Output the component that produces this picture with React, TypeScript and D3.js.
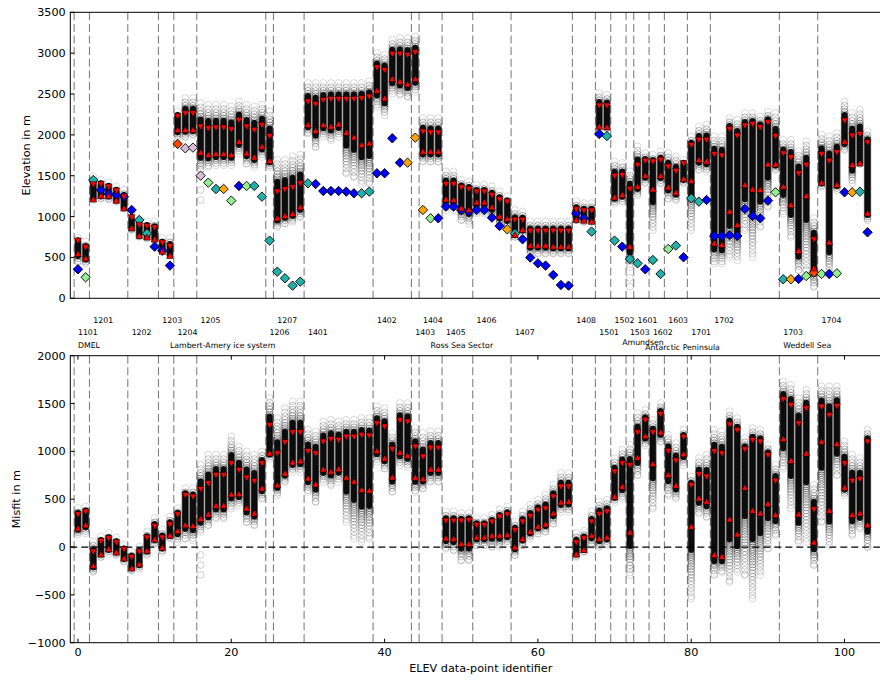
import React from "react";
import * as d3 from "d3";

// ---------- DATA ----------
const regionEdges = [-0.5, 1.5, 6.5, 10.5, 12.5, 15.5, 24.5, 25.5, 29.5, 38.5, 43.5, 44.5, 47.5, 51.5, 56.5, 64.5, 67.5, 69.5, 71.5, 72.5, 74.5, 76.5, 79.5, 82.5, 91.5, 96.5];
const regionIds = ["1101", "1201", "1202", "1203", "1204", "1205", "1206", "1207", "1401", "1402", "1403", "1404", "1405", "1406", "1407", "1408", "1501", "1502", "1503", "1601", "1602", "1603", "1701", "1702", "1703", "1704"];
const sectorNames = ["DMEL", "Lambert-Amery ice system", "Ross Sea Sector", "Amundsen", "Antarctic Peninsula", "Weddell Sea"];
const sectorPos = [0, 12, 46, 71, 74, 92];
const sectorRowShift = [0, 0, 0, -3.3, 1.8, 0];

const elevTicks = [0, 500, 1000, 1500, 2000, 2500, 3000, 3500];
const misfitTicks = [-1000, -500, 0, 500, 1000, 1500, 2000];
const idTicks = [0, 20, 40, 60, 80, 100];

// model upper (down-triangle) and lower (up-triangle) elevation, m
const elevUpper = [706, 624, 1395, 1399, 1366, 1318, 1244, 991, 897, 885,
  865, 681, 640, 2231, 2264, 2264, 2101, 2080, 2088, 2088,
  2068, 2182, 2101, 2060, 2121, 1986, 1305, 1334, 1358, 1407,
  2407, 2378, 2427, 2439, 2439, 2439, 2439, 2447, 2468, 2823,
  2794, 2990, 2990, 2978, 3010, 2040, 2027, 2027, 1399, 1399,
  1358, 1338, 1305, 1305, 1264, 1211, 1183, 959, 959, 824,
  824, 824, 824, 824, 824, 1089, 1073, 1073, 2358, 2358,
  1497, 1509, 1338, 1632, 1681, 1672, 1693, 1611, 1558, 1652,
  1876, 1938, 1938, 1766, 1746, 2072, 1990, 2113, 2133, 2093,
  2154, 1986, 1774, 1725, 1530, 1632, 722, 1766, 1681, 1787,
  2174, 1990, 2011, 1909];
const elevLower = [543, 489, 1211, 1252, 1252, 1195, 1101, 857, 763, 746,
  722, 571, 518, 2060, 2060, 2060, 1783, 1754, 1766, 1766,
  1754, 1917, 1774, 1725, 1856, 1680, 979, 1008, 1032, 1114,
  2121, 2048, 2121, 2101, 2129, 2027, 1970, 1876, 1897, 2541,
  2447, 2684, 2651, 2619, 2684, 1795, 1795, 1795, 1211, 1203,
  1101, 1081, 1175, 1175, 1114, 999, 971, 775, 836, 645,
  645, 645, 632, 632, 632, 959, 950, 938, 2101, 2093,
  1236, 1264, 632, 1366, 1501, 1334, 1497, 1358, 1293, 1460,
  1436, 1693, 1676, 673, 653, 1061, 897, 1387, 1334, 1326,
  1640, 1640, 1366, 1142, 579, 1252, 367, 1415, 685, 1387,
  1917, 1632, 1652, 1040];
// ensemble spread (highest / lowest member), m
const elevEnsMax = [775, 734, 1530, 1489, 1456, 1407, 1366, 1061, 999, 979,
  979, 775, 775, 2325, 2488, 2488, 2427, 2407, 2407, 2407,
  2386, 2447, 2407, 2386, 2407, 2325, 1734, 1734, 1774, 1795,
  2672, 2672, 2672, 2672, 2672, 2672, 2672, 2672, 2692, 3039,
  3018, 3202, 3222, 3222, 3243, 2243, 2243, 2243, 1591, 1591,
  1489, 1468, 1428, 1428, 1407, 1346, 1285, 1122, 1101, 979,
  979, 979, 979, 979, 979, 1224, 1203, 1203, 2549, 2529,
  1713, 1693, 1591, 1897, 1815, 1795, 1836, 1815, 1774, 1734,
  2019, 2142, 2162, 2019, 2019, 2243, 2223, 2305, 2305, 2264,
  2325, 2305, 1978, 1978, 1836, 1958, 1020, 2040, 2019, 2060,
  2447, 2305, 2345, 2080];
const elevEnsMin = [408, 388, 1163, 1183, 1175, 1142, 1061, 795, 714, 693,
  673, 530, 489, 1917, 1938, 1958, 1530, 1570, 1591, 1591,
  1591, 1734, 1611, 1570, 1693, 1570, 836, 877, 897, 959,
  1978, 1815, 1938, 1897, 1938, 1489, 1448, 1366, 1366, 2305,
  2203, 2468, 2447, 2427, 2488, 1632, 1632, 1632, 1040, 1040,
  918, 877, 999, 999, 959, 877, 836, 714, 755, 510,
  510, 510, 510, 510, 510, 918, 897, 897, 2040, 2040,
  1122, 1142, 347, 1224, 1366, 795, 1366, 1183, 1163, 1366,
  795, 1530, 1509, 388, 388, 469, 428, 795, 469, 836,
  1081, 1530, 999, 714, 306, 306, 102, 1326, 265, 1285,
  1774, 1366, 1611, 918];
const elevOutlierIdx = [16, 16, 72, 72];
const elevOutlierVal = [1326, 1203, 250, 143];

// observed elevation (diamonds) and their class
const obsElev = [355, 257, 1448, 1326, 1277, 1264, 1244, 1081, 959, 795,
  632, 583, 400, 1889, 1836, 1844, 1501, 1415, 1338, 1338,
  1195, 1375, 1375, 1375, 1244, 706, 326, 245, 155, 204,
  1407, 1399, 1313, 1313, 1313, 1305, 1285, 1285, 1305, 1530,
  1530, 1958, 1660, 1660, 1966, 1081, 979, 979, 1122, 1122,
  1081, 1060, 1081, 1081, 987, 885, 844, 795, 722, 498,
  428, 400, 286, 163, 155, 1040, 979, 816, 2011, 1986,
  706, 632, 481, 428, 355, 469, 298, 604, 645, 502,
  1224, 1183, 1203, 763, 763, 771, 763, 1093, 1008, 979,
  1195, 1297, 233, 233, 237, 273, 314, 298, 298, 306,
  1297, 1297, 1305, 808];
const obsClass = "bgcbbbbbccbbbrpppgcogbgccccccccbbbbbbccbbbbooogbbbbbbbbbocbbbbbbbbbcbccbccbccgcbccbbbbbbbbbgcobgrgbgbocb";
const classColor: Record<string, string> = {
  b: "#0000ff", c: "#20b2aa", g: "#90ee90", o: "#ffa500", p: "#d8bfd8", r: "#ff4500",
};

// misfit (model minus observation), m
const misUpper = [342, 370, -49, 63, 91, 49, -24, -104, -49, 98,
  220, 98, 237, 342, 544, 526, 606, 666, 753, 753,
  875, 805, 725, 690, 875, 1275, 979, 1094, 1199, 1199,
  1004, 979, 1101, 1129, 1119, 1153, 1153, 1171, 1164, 1293,
  1258, 1024, 1324, 1310, 1049, 944, 1038, 1038, 275, 275,
  275, 282, 230, 230, 265, 317, 342, 178, 265, 324,
  387, 404, 526, 631, 631, 49, 91, 265, 345, 370,
  788, 875, 857, 1199, 1328, 1199, 1390, 1004, 903, 1153,
  648, 760, 735, 1000, 979, 1282, 1223, 1021, 1119, 1101,
  962, 693, 1544, 1484, 1293, 1450, 394, 1467, 1380, 1474,
  875, 693, 711, 1101];
const misLower = [195, 230, -198, -76, -21, -56, -118, -223, -181, -38,
  80, -7, 119, 167, 230, 220, 293, 342, 432, 432,
  551, 554, 404, 352, 613, 979, 648, 770, 885, 899,
  718, 655, 812, 788, 815, 725, 683, 596, 589, 1004,
  927, 728, 986, 955, 725, 711, 812, 812, 91, 84,
  32, 32, 101, 101, 119, 119, 126, -3, 84, 160,
  213, 237, 352, 467, 474, -76, -31, 119, 84, 101,
  526, 631, 153, 934, 1160, 868, 1199, 753, 641, 972,
  213, 509, 474, -83, -101, 289, 133, 620, 380, 352,
  450, 335, 1129, 903, 342, 979, 49, 1101, 380, 1077,
  620, 335, 352, 230];
const misEnsMax = [439, 456, 91, 143, 178, 133, 56, -14, 38, 195,
  335, 213, 352, 439, 648, 648, 892, 997, 997, 997,
  1188, 1084, 1031, 997, 1031, 1589, 1380, 1484, 1554, 1554,
  1258, 1241, 1345, 1363, 1345, 1363, 1363, 1380, 1380, 1502,
  1484, 1223, 1537, 1537, 1275, 1223, 1241, 1241, 404, 404,
  387, 387, 335, 335, 369, 422, 457, 300, 404, 474,
  526, 579, 683, 805, 805, 178, 202, 404, 509, 526,
  962, 1049, 1101, 1432, 1467, 1363, 1537, 1206, 1119, 1258,
  770, 962, 997, 1258, 1241, 1450, 1380, 1171, 1275, 1258,
  1101, 892, 1763, 1728, 1589, 1676, 683, 1711, 1711, 1711,
  1136, 997, 962, 1258];
const misEnsMin = [100, 110, -292, -136, -101, -118, -188, -275, -258, -118,
  3, -83, 56, 21, 56, 38, 126, 195, 265, 265,
  370, 404, 230, 195, 474, 892, 509, 648, 753, 753,
  544, 439, 648, 613, 648, 230, 56, 21, 56, 857,
  787, 544, 822, 805, 544, 578, 648, 648, -49, -66,
  -170, -170, -14, -14, -31, -31, 3, -118, -14, 56,
  108, 126, 213, 335, 335, -136, -83, -14, -31, -14,
  439, 474, -327, 718, 1031, 370, 1066, 509, 474, 822,
  -571, 317, 282, -327, -292, -397, -292, -327, -571, -327,
  -49, 91, 787, 370, 21, 21, -222, 230, -14, 718,
  509, 91, 160, -31];
const misOutlierIdx = [16, 16, 16];
const misOutlierVal = [-83, -188, -292];

// ---------- LAYOUT ----------
const W = 880;
const H = 680;
const LEFT = 70.3;
const RIGHT = 891.3;
const TOP1 = 12.3, BOT1 = 298.3;
const TOP2 = 355.7, BOT2 = 642.7;
const R = 3.4; // ensemble ring radius

function ensemble(keyp: string, cx: number, yHi: number, yB: number, yA: number, yLo: number) {
  const out: React.ReactNode[] = [];
  const hi = Math.min(yHi, yB, yA) + 3;
  const lo = Math.max(yLo, yB, yA) - 3;
  const top = Math.min(yB, yA);
  const bot = Math.max(yB, yA);
  const cTop = top - 0.33 * Math.max(0, top - hi);
  const cBot = bot + 0.33 * Math.max(0, lo - bot);
  out.push(
    <rect key={keyp + "core"} x={cx - R + 0.5} y={cTop - R + 1} width={2 * R - 1} height={Math.max(0, cBot - cTop + 2 * R - 2)}
      rx={R - 0.5} fill="#000" opacity={0.92} />
  );
  let yy = hi;
  let i = 0;
  while (yy <= lo + 0.01) {
    let op: number;
    let step: number;
    if (yy >= cTop && yy <= cBot) {
      op = 0.38;
      step = 2;
    } else {
      const t = yy < cTop ? (cTop - yy) / Math.max(1, cTop - hi) : (yy - cBot) / Math.max(1, lo - cBot);
      op = 0.4 - 0.25 * t;
      step = 1.8 + 2.6 * t;
    }
    out.push(<circle key={keyp + "c" + i} cx={cx} cy={yy} r={R} fill="none" stroke="#000" strokeWidth={1} strokeOpacity={op} />);
    yy += step;
    i++;
  }
  out.push(<circle key={keyp + "cl"} cx={cx} cy={lo} r={R} fill="none" stroke="#000" strokeWidth={1} strokeOpacity={0.15} />);
  return out;
}

function triDown(cx: number, cy: number) {
  return `M${cx - 3.4},${cy - 2.6}L${cx + 3.4},${cy - 2.6}L${cx},${cy + 3.4}Z`;
}
function triUp(cx: number, cy: number) {
  return `M${cx - 3.4},${cy + 2.6}L${cx + 3.4},${cy + 2.6}L${cx},${cy - 3.4}Z`;
}
function diamond(cx: number, cy: number) {
  const s = 4.7;
  return `M${cx},${cy - s}L${cx + s},${cy}L${cx},${cy + s}L${cx - s},${cy}Z`;
}

export default function App() {
  const x = d3.scaleLinear().domain([-1, 106.1]).range([LEFT, RIGHT]);
  const yE = d3.scaleLinear().domain([0, 3500]).range([BOT1, TOP1]);
  const yM = d3.scaleLinear().domain([-1000, 2000]).range([BOT2, TOP2]);
  const idx = d3.range(elevUpper.length);
  const minus = (v: number) => (v < 0 ? "\u2212" + Math.abs(v) : String(v));
  const tickFs = 11.2;
  const smallFs = 7.8;

  const panel = (
    which: string,
    y: d3.ScaleLinear<number, number>,
    top: number,
    bot: number,
    up: number[],
    low: number[],
    eMax: number[],
    eMin: number[],
    oIdx: number[],
    oVal: number[],
  ) => (
    <g key={which}>
      <clipPath id={"clip" + which}>
        <rect x={LEFT} y={top} width={RIGHT - LEFT} height={bot - top} />
      </clipPath>
      <g clipPath={`url(#clip${which})`}>
        {regionEdges.map((e, i) => (
          <line key={"v" + i} x1={x(e)} x2={x(e)} y1={top} y2={bot} stroke="#808080" strokeWidth={1.1} strokeDasharray="8,3.6" />
        ))}
        {idx.map((i) => ensemble(which + i, x(i), y(eMax[i]), y(up[i]), y(low[i]), y(eMin[i])))}
        {oIdx.map((i, k) => (
          <circle key={"o" + k} cx={x(i)} cy={y(oVal[k])} r={R} fill="none" stroke="#000" strokeOpacity={0.18} />
        ))}
        {which === "M" && (
          <line x1={LEFT} x2={RIGHT} y1={y(0)} y2={y(0)} stroke="#000" strokeWidth={1.2} strokeDasharray="7,4" />
        )}
        {which === "E" && idx.map((i) => (
          <path key={"d" + i} d={diamond(x(i), y(obsElev[i]))} fill={classColor[obsClass[i]]} stroke="#000" strokeWidth={0.9} />
        ))}
        {idx.map((i) => (
          <path key={"td" + i} d={triDown(x(i), y(up[i]))} fill="#ff0000" stroke="#000" strokeWidth={0.5} />
        ))}
        {idx.map((i) => (
          <path key={"tu" + i} d={triUp(x(i), y(low[i]))} fill="#ff0000" stroke="#000" strokeWidth={0.5} />
        ))}
      </g>
      {/* spines */}
      <rect x={LEFT} y={top} width={RIGHT - LEFT} height={bot - top} fill="none" stroke="#000" strokeWidth={1} />
    </g>
  );

  return (
    <svg width={W} height={H} style={{ position: "absolute", left: 0, top: 0 }} fontFamily="'DejaVu Sans', sans-serif">
      <rect width={W} height={H} fill="#fff" />
      {panel("E", yE, TOP1, BOT1, elevUpper, elevLower, elevEnsMax, elevEnsMin, elevOutlierIdx, elevOutlierVal)}
      {panel("M", yM, TOP2, BOT2, misUpper, misLower, misEnsMax, misEnsMin, misOutlierIdx, misOutlierVal)}

      {/* y ticks */}
      {elevTicks.map((t) => (
        <g key={"et" + t}>
          <line x1={LEFT} x2={LEFT + 4} y1={yE(t)} y2={yE(t)} stroke="#000" />
          <text x={LEFT - 4.6} y={yE(t) + 4} fontSize={tickFs} textAnchor="end">{minus(t)}</text>
        </g>
      ))}
      {misfitTicks.map((t) => (
        <g key={"mt" + t}>
          <line x1={LEFT} x2={LEFT + 4} y1={yM(t)} y2={yM(t)} stroke="#000" />
          <text x={LEFT - 4.6} y={yM(t) + 4} fontSize={tickFs} textAnchor="end">{minus(t)}</text>
        </g>
      ))}
      {idTicks.map((t) => (
        <g key={"xt" + t}>
          <line x1={x(t)} x2={x(t)} y1={BOT2} y2={BOT2 - 4} stroke="#000" />
          <line x1={x(t)} x2={x(t)} y1={TOP2} y2={TOP2 + 4} stroke="#000" />
          <text x={x(t)} y={BOT2 + 13.4} fontSize={tickFs} textAnchor="middle">{t}</text>
        </g>
      ))}

      {/* axis labels */}
      <text transform={`translate(29.5,${(TOP1 + BOT1) / 2}) rotate(-90)`} fontSize={tickFs} textAnchor="middle">Elevation in m</text>
      <text transform={`translate(19.5,${(TOP2 + BOT2) / 2}) rotate(-90)`} fontSize={tickFs} textAnchor="middle">Misfit in m</text>
      <text x={(LEFT + RIGHT) / 2} y={672} fontSize={tickFs} textAnchor="middle">ELEV data-point identifier</text>

      {/* region labels */}
      {regionIds.map((id, i) => (
        <text key={id} x={x(regionEdges[i] + 0.5)} y={i % 2 === 1 ? 322.7 : 335} fontSize={smallFs}>{id}</text>
      ))}
      {sectorNames.map((n, i) => (
        <text key={n} x={x(sectorPos[i])} y={348.3 + sectorRowShift[i]} fontSize={smallFs}>{n}</text>
      ))}
    </svg>
  );
}
